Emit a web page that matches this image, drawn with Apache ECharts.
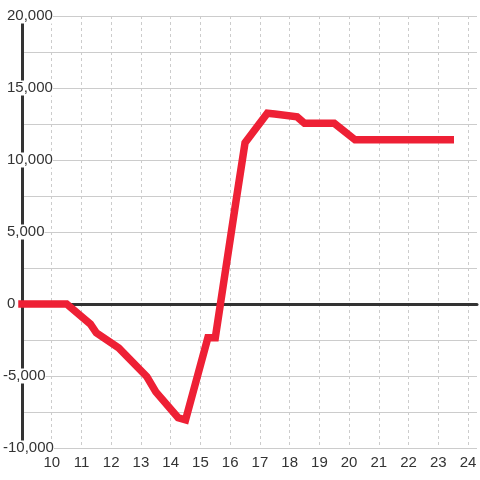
<!DOCTYPE html>
<html>
<head>
<meta charset="utf-8">
<script src="https://cdn.jsdelivr.net/npm/echarts@6/dist/echarts.min.js"></script>
<style>
	html, body { margin: 0; padding: 0; background: #fff; }
	#chart { width: 480px; height: 480px; }
</style>
</head>
<body>
<div id="chart"></div>
<script>
// 数据点 (x, 值)
var hours = [9, 10.5, 11.3, 11.5, 12.25, 13.2, 13.5, 14.25, 14.5, 15.25, 15.5, 16.2, 16.5, 17.25, 17.5, 18.25, 18.5, 19.5, 20.2, 23.4];
var values = [0, 0, -1400, -2000, -3050, -5050, -6100, -7900, -8050, -2350, -2350, 7200, 11200, 13250, 13200, 13000, 12550, 12550, 11400, 11400];
var xTicks = [10, 11, 12, 13, 14, 15, 16, 17, 18, 19, 20, 21, 22, 23, 24];
var yTicks = [-10000, -5000, 0, 5000, 10000, 15000, 20000];

var chart = echarts.init(document.getElementById('chart'));

function fmtY(v) {
	return yTicks.indexOf(v) >= 0 ? v.toLocaleString('en-US') : '';
}

var labelBase = {
	color: '#333',
	fontSize: 15,
	fontFamily: 'Liberation Sans, Arial, sans-serif',
	align: 'left',
	backgroundColor: '#fff'
};

var seriesData = hours.map(function(h, i) {
	return [h, values[i]];
});

var option = {
	animation: false,
	grid: {
		left: 21,
		right: 0,
		top: 16,
		bottom: 32,
		containLabel: false
	},
	xAxis: [
		{
			type: 'value',
			min: 9,
			max: 24.3,
			interval: 1,
			axisLine: { show: false, onZero: false },
			axisTick: { show: false },
			axisLabel: {
				color: '#333',
				fontSize: 15,
				fontFamily: 'Liberation Sans, Arial, sans-serif',
				margin: 7,
				formatter: function(v) {
					return xTicks.indexOf(v) >= 0 ? String(v) : '';
				}
			},
			splitLine: {
				show: true,
				showMaxLine: false,
				lineStyle: { color: '#ccc', type: [3, 3], width: 1 }
			}
		},
		{
			// 零线
			type: 'value',
			position: 'bottom',
			min: 9,
			max: 24.3,
			axisLine: { show: true, onZero: true, lineStyle: { color: '#333', width: 3 } },
			axisTick: { show: false },
			axisLabel: { show: false },
			splitLine: { show: false }
		}
	],
	yAxis: [
		{
			type: 'value',
			min: -10000,
			max: 20000,
			interval: 2500,
			axisLine: { show: true, onZero: false, lineStyle: { color: '#333', width: 3 } },
			axisTick: { show: false },
			axisLabel: Object.assign({}, labelBase, {
				margin: 15,
				formatter: function(v) { return v >= 0 ? fmtY(v) : ''; }
			}),
			splitLine: {
				show: true,
				lineStyle: { color: '#ccc', width: 1 }
			}
		},
		{
			// 负数标签, 负号向左
			type: 'value',
			position: 'left',
			min: -10000,
			max: 20000,
			interval: 2500,
			axisLine: { show: false, onZero: false },
			axisTick: { show: false },
			axisLabel: Object.assign({}, labelBase, {
				margin: 19,
				formatter: function(v) { return v < 0 ? fmtY(v) : ''; }
			}),
			splitLine: { show: false }
		}
	],
	series: [
		{
			type: 'line',
			xAxisIndex: 0,
			yAxisIndex: 0,
			data: seriesData,
			symbol: 'none',
			clip: false,
			z: 5,
			lineStyle: {
				color: '#ee2035',
				width: 7.5,
				cap: 'square',
				join: 'miter'
			}
		}
	]
};

chart.setOption(option);
</script>
</body>
</html>
